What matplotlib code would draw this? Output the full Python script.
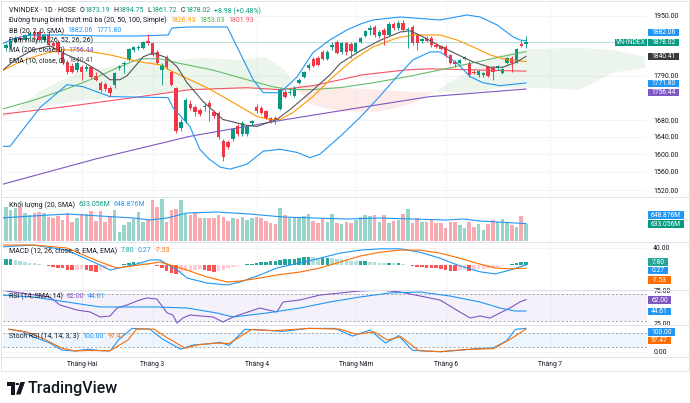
import numpy as np
import matplotlib
matplotlib.use("Agg")
import matplotlib.pyplot as plt
from matplotlib.patches import Rectangle, Polygon, Circle
from matplotlib.lines import Line2D
from matplotlib.ticker import NullLocator

FONT = ["Roboto", "DejaVu Sans"]
plt.rcParams["font.family"] = FONT

# ---------------------------------------------------------------- DATA
month_labels = ["Tháng Hai", "Tháng 3", "Tháng 4", "Tháng Năm", "Tháng 6", "Tháng 7"]
month_bars = [16, 31, 53, 74, 93, 115]

opens = [1863, 1866, 1879, 1890, 1884, 1895, 1903, 1906, 1884, 1900,
         1876, 1879, 1850, 1826, 1816, 1805, 1813, 1808, 1813, 1790,
         1772, 1770, 1760, 1767, 1810, 1821, 1831, 1857, 1863, 1863,
         1882, 1876, 1852, 1805, 1836, 1800, 1760, 1662, 1677, 1718,
         1712, 1705, 1712, 1722, 1700, 1698, 1630, 1627, 1634, 1665,
         1646, 1646, 1672, 1713, 1710, 1701, 1684, 1684, 1708, 1750,
         1747, 1740, 1772, 1788, 1811, 1834, 1836, 1852, 1834, 1865,
         1879, 1852, 1876, 1873, 1852, 1879, 1895, 1911, 1920, 1895,
         1911, 1898, 1928, 1917, 1931, 1912, 1920, 1898, 1881, 1890,
         1889, 1871, 1868, 1866, 1844, 1826, 1824, 1834, 1824, 1800,
         1793, 1793, 1813, 1811, 1811, 1798, 1824, 1837, 1826, 1873,
         1873.19]
highs = [1876, 1882, 1894, 1896, 1900, 1908, 1910, 1912, 1900, 1909,
         1882, 1884, 1856, 1832, 1822, 1828, 1818, 1818, 1816, 1800,
         1776, 1774, 1765, 1800, 1818, 1827, 1862, 1868, 1870, 1882,
         1900, 1880, 1856, 1822, 1845, 1803, 1762, 1682, 1733, 1730,
         1716, 1710, 1725, 1728, 1705, 1702, 1634, 1632, 1660, 1670,
         1678, 1668, 1680, 1720, 1714, 1705, 1688, 1689, 1760, 1756,
         1756, 1764, 1784, 1803, 1822, 1840, 1842, 1858, 1856, 1880,
         1884, 1880, 1880, 1878, 1879, 1893, 1912, 1925, 1924, 1910,
         1916, 1932, 1934, 1936, 1938, 1920, 1925, 1902, 1890, 1895,
         1894, 1876, 1872, 1870, 1848, 1830, 1834, 1842, 1828, 1806,
         1806, 1800, 1816, 1815, 1818, 1810, 1840, 1842, 1862, 1884,
         1894.75]
lows = [1855, 1860, 1875, 1880, 1881, 1890, 1890, 1880, 1878, 1862,
        1862, 1848, 1820, 1795, 1796, 1800, 1780, 1803, 1785, 1776,
        1750, 1752, 1740, 1760, 1805, 1798, 1828, 1852, 1858, 1860,
        1872, 1842, 1820, 1766, 1808, 1764, 1650, 1655, 1672, 1705,
        1690, 1690, 1703, 1677, 1685, 1636, 1584, 1612, 1630, 1643,
        1642, 1643, 1668, 1698, 1695, 1683, 1672, 1670, 1705, 1734,
        1742, 1736, 1768, 1784, 1806, 1812, 1814, 1830, 1830, 1858,
        1846, 1848, 1845, 1836, 1849, 1876, 1892, 1897, 1892, 1890,
        1870, 1895, 1912, 1912, 1906, 1863, 1872, 1857, 1876, 1878,
        1866, 1862, 1856, 1840, 1820, 1813, 1820, 1830, 1788, 1794,
        1788, 1788, 1786, 1780, 1806, 1795, 1820, 1800, 1822, 1866,
        1861.72]
closes = [1871, 1879, 1890, 1884, 1898, 1903, 1895, 1884, 1898, 1871,
          1869, 1852, 1824, 1800, 1800, 1823, 1800, 1813, 1788, 1780,
          1755, 1757, 1747, 1798, 1816, 1824, 1860, 1866, 1866, 1879,
          1876, 1845, 1824, 1818, 1813, 1767, 1653, 1675, 1730, 1710,
          1700, 1694, 1714, 1713, 1689, 1640, 1593, 1616, 1658, 1646,
          1674, 1665, 1677, 1701, 1698, 1686, 1677, 1683, 1757, 1737,
          1750, 1760, 1780, 1800, 1818, 1816, 1818, 1834, 1852, 1871,
          1850, 1876, 1852, 1855, 1876, 1890, 1909, 1917, 1898, 1906,
          1898, 1928, 1917, 1931, 1911, 1915, 1876, 1876, 1887, 1882,
          1871, 1866, 1860, 1844, 1824, 1821, 1831, 1839, 1793, 1798,
          1803, 1798, 1790, 1800, 1816, 1808, 1837, 1824, 1860, 1869.04,
          1878.02]
volumes = [1277, 1153, 1240, 1277, 1029, 967, 1029, 1091, 1029, 905,
           843, 943, 781, 1029, 719, 868, 992, 992, 1116, 744,
           1116, 719, 905, 1153, 322, 595, 694, 818, 1066, 719,
           818, 1525, 1277, 1562, 719, 1153, 1190, 1525, 992, 967,
           1029, 843, 868, 843, 868, 967, 905, 744, 843, 818,
           905, 781, 868, 905, 843, 744, 657, 620, 1215, 967,
           868, 868, 905, 943, 992, 744, 657, 868, 719, 992,
           657, 620, 694, 657, 781, 905, 967, 943, 967, 719,
           967, 657, 744, 781, 992, 1190, 657, 843, 719, 719,
           818, 657, 657, 496, 719, 719, 595, 496, 719, 533,
           620, 409, 620, 781, 694, 818, 657, 595, 533, 943,
           633.056]

# price overlays: (bar position, value)
bb_up_x = [-1.3, 2, 5, 11, 20, 28, 34.3, 35.1, 39, 46.8, 49.5, 52.3, 54.4, 58, 61.6,
           64.9, 68.5, 72.1, 75, 77.6, 83.4, 91.8, 97.5, 100.3, 103.9, 107.3, 108.7, 110]
bb_up = [1870.8, 1889.6, 1897.7, 1897.7, 1895.0, 1895.0, 1897.7, 1916.8, 1919.6, 1919.6,
         1849.7, 1779.9, 1747.3, 1747.3, 1787.5, 1849.7, 1884.2, 1911.3, 1927.8, 1938.9,
         1947.2, 1938.9, 1952.8, 1947.2, 1925.1, 1892.3, 1884.2, 1882.06]
bb_lo_x = [-1.3, 0.85, 7.2, 12.9, 16.3, 22, 34.3, 35.3, 38.9, 41, 43, 45.3, 47.4, 51, 54.4,
           58, 61.6, 64.3, 66.4, 70.7, 74.9, 79, 82.7, 86.1, 89.7, 91.8, 95.4, 98.2, 100.9,
           104.5, 110]
bb_lo = [1618, 1618, 1710.4, 1767.3, 1762.3, 1737.4, 1734.9, 1710.4, 1664.8, 1611.3,
         1588.6, 1570.6, 1566.1, 1577.3, 1606.8, 1611.3, 1604, 1592, 1600, 1641.4,
         1686.3, 1737.4, 1787.5, 1831.3, 1852.3, 1852.3, 1823.5, 1787.5, 1772.4,
         1764.8, 1771.8]
sma20_x = [-1.3, 3, 7.2, 11.4, 15.7, 22, 28.3, 32.6, 35.3, 38.9, 42.5, 45.9, 49.5, 53.1,
           55.8, 58, 60.7, 64.9, 69.2, 73.4, 77.6, 82.7, 86.1, 91.8, 95.4, 98.8, 102.4, 106, 110]
sma20 = [1800.3, 1826.1, 1844.4, 1857.6, 1857.6, 1844.4, 1826.1, 1818.3, 1800.3, 1779.9,
         1759.8, 1737.4, 1712.9, 1688.7, 1681.5, 1681.5, 1698.3, 1737.4, 1787.5, 1831.3,
         1865.5, 1889.6, 1897.7, 1897.7, 1884.2, 1865.5, 1844.4, 1831.3, 1826.93]
sma50_x = [-1.3, 5.7, 12.9, 19.9, 24.1, 28.3, 32.6, 36.8, 44, 51.3, 56.5, 60.1, 64.9,
           70.7, 77.6, 84.8, 91.8, 98.8, 104.5, 110]
sma50 = [1705, 1728, 1757, 1790, 1814, 1834, 1834, 1822, 1804, 1779, 1762, 1755, 1755,
         1760, 1772, 1787.5, 1805, 1823.5, 1839, 1853.03]
sma100_x = [-1.3, 12.9, 26.9, 38.9, 51, 58, 64.9, 70.7, 75.5, 84.8, 89.7, 98.8, 110]
sma100 = [1693.5, 1712.9, 1734.9, 1754.8, 1759.8, 1754.8, 1764.8, 1779.9, 1792.6, 1805.4,
          1808.0, 1805.4, 1801.93]
ma200_x = [-1.3, 18.8, 38.9, 58, 74.9, 89.7, 110]
ma200 = [1530.9, 1588.6, 1641.4, 1679.1, 1710.4, 1737.4, 1756.44]
ema10_x = [-1.3, 1.9, 5.7, 9.3, 12.9, 16.3, 19.9, 22, 24.1, 25.6, 29, 31.1, 34.1, 36.2,
           38.3, 41.7, 45.9, 51, 53.1, 57.3, 60.1, 64.3, 68.5, 70.7, 74.9, 79.1, 83.4,
           85.5, 88.2, 91.8, 95.4, 98.8, 102.4, 105.1, 108.1, 110]
ema10 = [1797.7, 1831.3, 1857.6, 1868.2, 1844.4, 1826.1, 1800.3, 1779.9, 1779.9, 1790.1,
         1839.1, 1849.7, 1836.5, 1813.1, 1772.4, 1725.1, 1681.5, 1667.2, 1664.8, 1681.5,
         1705.6, 1747.3, 1792, 1822, 1855, 1883, 1905.9, 1909, 1893, 1868, 1846,
         1826, 1812, 1812, 1826.1, 1840.41]
cloud_x = [-1.3, 1.9, 7.2, 15.7, 24.1, 32.6, 41, 49.5, 54.8, 59, 61.1, 64.3, 70.7, 79.1,
           85.5, 90.8, 98.2, 104.5, 110.9, 121.4, 128.4, 135.2]
span_a = [1681.5, 1700.7, 1752, 1800, 1818, 1826, 1836.5, 1831.3, 1839.1, 1805.4, 1764.8,
          1717.8, 1700.7, 1700.7, 1717.8, 1749.8, 1805.4, 1844.4, 1860, 1862.9, 1857.6, 1839.1]
span_b = [1693.5, 1700.7, 1710.4, 1727, 1737, 1747.3, 1754.8, 1754.8, 1754.8, 1759.8, 1764.8,
          1767.3, 1759.8, 1754.8, 1749.8, 1749.8, 1747.3, 1759.8, 1759.8, 1754.8, 1797.7, 1810.6]

vol_sma_x = [-1.3, 5.7, 12.9, 19.9, 26.9, 30.5, 34.1, 38.3, 44.6, 51.6, 58.6, 64.9, 72.1,
             79.1, 86.1, 93.3, 96.7, 100.3, 103.9, 110]
vol_sma = [856, 930, 1004, 930, 856, 781, 856, 1042, 1079, 1004, 893, 856, 818, 856, 818,
           781, 818, 744, 707, 648.876]

macd_x = [-1.3, 5.7, 12.9, 19.9, 22, 26.9, 30.5, 32.6, 36.2, 38.3, 42.5, 46.8, 49.5, 53.7,
          57.3, 60.1, 62.2, 66.4, 70.7, 74.9, 79.1, 83.4, 87.6, 91.8, 96, 100.3, 103.5,
          106.6, 110]
macd = [42.3, 47, 35, 0, -11.8, 0, 11.8, 11.8, -11.8, -30.6, -42.3, -47, -40, -23.5, -7,
        0, 4.7, 16, 28, 35, 38, 38, 30, 16, -2, -16, -21, -12, 0.27]
signal_x = [-1.3, 5.7, 12.9, 19.9, 23.5, 28.3, 32.6, 38.3, 42.5, 46.8, 49.5, 53.7, 57.3,
            62.2, 66.4, 70.7, 74.9, 79.1, 83.4, 87.6, 91.8, 96, 100.3, 103.5, 106.6, 110]
signal = [47, 47, 40, 7, -7, 0, 7, -12, -28, -40, -37.6, -30.6, -23.5, -16.5, -7, 7, 21,
          30, 35, 35, 28, 16, 2, -7, -9, -7.53]
hist = [13, 13, 12, 10, 8, 5.5, 4, 2.3, 1, -2,
        -4, -6, -8, -11, -12, -11, -10, -12, -14, -16,
        -15, -10, -5, -1, 1, 2.5, 4.5, 6.5, 6, 4.5,
        3, 1, -3, -8, -13, -18, -20, -17, -15, -13,
        -11, -10, -11, -15, -16, -14, -11, -8, -5, -3,
        1, 2.5, 3.5, 4, 7, 8, 9, 10, 12, 13,
        14, 15, 16, 18, 19, 18, 17, 17, 17, 16,
        14, 13, 11, 10, 9, 9, 9, 8, 6, 5,
        4, 5, 4, 4, 2, 1, -2, -4, -5, -6,
        -7, -8, -9, -11, -13, -13, -12, -11, -13, -12,
        -10, -9, -8, -6, -4, -2, 1, 2, 5, 6.5,
        7.80]

rsi_x = [-1.3, 3, 9.3, 11.4, 15, 17.8, 19.9, 22, 23.5, 25.6, 28.3, 29.8, 31.9, 34.1, 35.3,
         36.2, 37.4, 38.9, 43.8, 45.9, 48, 53.7, 57.3, 58.6, 62.2, 66.4, 70.7, 74.9, 79.1,
         83.4, 87.6, 91.8, 93.9, 96, 98.2, 100.3, 102.4, 104.5, 106.6, 108.7, 110]
rsi = [76.5, 72, 65.9, 53.8, 46.2, 43.2, 35.6, 37.1, 49.2, 53.8, 61.4, 64.4, 62.9, 41.7,
       38.6, 26.5, 34.1, 38.6, 35.6, 28, 35.6, 49.2, 43.2, 58.3, 61.4, 68.9, 72, 75, 76.5,
       73.5, 67.4, 61.4, 52.3, 43.2, 34.1, 37.1, 34.1, 41.7, 49.2, 58.3, 62.0]
rsi_ma_x = [-1.3, 5.7, 12.9, 19.9, 26.9, 31.9, 38.3, 44.6, 48, 55.2, 62.2, 68.5, 74.9,
            81.2, 87.6, 93.9, 100.3, 104.5, 107.7, 110]
rsi_ma = [68.9, 65.9, 58.3, 50.8, 50.8, 50.8, 49.2, 41.7, 35.6, 41.7, 49.2, 58.3, 65.9,
          72, 73.5, 67.4, 58.3, 49.2, 44.7, 44.61]

stoch_k_x = [0.6, 3.4, 6.2, 9, 11.8, 14.6, 17.4, 20.2, 22, 23.9, 26.7, 30.4, 33.2, 36.9,
             39.7, 43.5, 45.3, 47.2, 50.5, 54.6, 58.4, 64, 69.6, 73.3, 77, 80.3, 83.1,
             85.9, 88.2, 91.9, 96.6, 99.4, 103.1, 105.9, 107.8, 110]
stoch_k = [96, 87, 60, 40, 7, 3, 11, 4, 3, 53, 100, 97, 53, 11, 29, 35, 40, 27, 96, 93,
           87, 100, 100, 67, 93, 37, 69, 7, 3, 0, 7, 13, 16, 47, 96, 100]
stoch_d_x = [0.6, 4.3, 8, 11.8, 14.6, 17.4, 22, 25.8, 27.6, 31.3, 34.1, 37.9, 40.7, 44.4,
             47.2, 51.9, 56.5, 64, 70.5, 74.2, 77.9, 80.7, 83.5, 87.3, 91.9, 97.5, 103.1,
             106.8, 110]
stoch_d = [97, 85, 55, 15, 3, 5, 4, 50, 97, 97, 60, 15, 30, 37, 35, 95, 90, 100, 97, 75,
           85, 50, 65, 5, 0, 10, 13, 55, 97.47]

price_ticks = [1950, 1790, 1680, 1640, 1600, 1560, 1520]

# ---------------------------------------------------------------- LAYOUT
W, H = 690, 403
L_PX, R_PX = 3, 647
X0, SP = 6.0, 4.727
XLIM = ((L_PX - X0) / SP, (R_PX - X0) / SP)

UP, DN = "#089981", "#F23645"
TXT = "#131722"
GRID = "#F0F3FA"
LEG = 5.0

fig = plt.figure(figsize=(W / 100, H / 100), dpi=100)
fig.patch.set_facecolor("white")


def pane(top, bottom):
    ax = fig.add_axes([L_PX / W, 1 - bottom / H, (R_PX - L_PX) / W, (bottom - top) / H])
    ax.set_xlim(*XLIM)
    for s in ax.spines.values():
        s.set_visible(False)
    ax.set_xticks(month_bars)
    ax.tick_params(axis="x", length=0, labelbottom=False)
    ax.yaxis.tick_right()
    ax.tick_params(axis="y", length=0, pad=4.5, labelsize=5.0, labelcolor=TXT)
    ax.grid(True, color=GRID, lw=0.6)
    ax.set_axisbelow(True)
    ax.patch.set_alpha(0)
    return ax


# ---- price pane
axp = pane(3, 196)
axp.set_yscale("log")
axp.set_ylim(1507.0, 1986.6)
axp.yaxis.set_minor_locator(NullLocator())
axp.set_yticks(price_ticks)
axp.set_yticklabels([f"{t:.2f}" for t in price_ticks])

xs = np.arange(len(closes))
ca, cb = np.array(span_a), np.array(span_b)
axp.fill_between(cloud_x, ca, cb, where=ca >= cb, interpolate=True, color="#43A047",
                 alpha=0.10, lw=0)
axp.fill_between(cloud_x, ca, cb, where=ca < cb, interpolate=True, color="#F44336",
                 alpha=0.10, lw=0)
axp.axhline(closes[-1], color=UP, lw=0.6, alpha=0.35)
axp.plot(ma200_x, ma200, color="#7E57C2", lw=0.8)
axp.plot(sma100_x, sma100, color="#F7525F", lw=0.8)
axp.plot(sma50_x, sma50, color="#66BB6A", lw=0.8)
axp.plot(sma20_x, sma20, color="#FF9800", lw=0.8)
axp.plot(bb_up_x, bb_up, color="#2196F3", lw=0.8)
axp.plot(bb_lo_x, bb_lo, color="#2196F3", lw=0.8)
axp.plot(ema10_x, ema10, color="#555555", lw=0.8)

o, h, l, c = map(np.array, (opens, highs, lows, closes))
col = np.where(c >= o, UP, DN)
axp.vlines(xs, l, h, colors=col, lw=0.65)
bot = np.minimum(o, c)
top = np.maximum(o, c)
top = np.where(top - bot < 1.2, bot + 1.2, top)
axp.bar(xs, top - bot, bottom=bot, width=0.72, color=col, lw=0)

# ---- volume pane
axv = pane(197, 242)
axv.set_ylim(-37.2, 1636.8)
axv.set_yticks([])
axv.bar(xs, volumes, width=0.75, color=col, alpha=0.42, lw=0)
axv.plot(vol_sma_x, vol_sma, color="#2196F3", lw=0.8)

# ---- MACD pane
axm = pane(243, 289)
axm.set_ylim(-56.4, 51.7)
axm.set_yticks([40])
axm.set_yticklabels(["40.00"])
hcol = []
for i, v in enumerate(hist):
    p = hist[i - 1] if i > 0 else v
    if v >= 0:
        hcol.append("#26A69A" if v >= p else "#B2DFDB")
    else:
        hcol.append("#FF5252" if v <= p else "#FFCDD2")
axm.bar(xs, hist, width=0.75, color=hcol, lw=0)
axm.plot(macd_x, macd, color="#2196F3", lw=0.8)
axm.plot(signal_x, signal, color="#FF6D00", lw=0.8)

# ---- RSI pane
axr = pane(290, 324)
axr.set_ylim(25.0, 76.5)
axr.set_yticks([75, 25])
axr.set_yticklabels(["75.00", "25.00"])
axr.axhspan(30, 70, color="#7E57C2", alpha=0.08, lw=0)
for lv in (70, 30):
    axr.axhline(lv, color="#9598A1", lw=0.6, dashes=(2.5, 2.5))
axr.plot(rsi_x, rsi, color="#7E57C2", lw=0.8)
axr.plot(rsi_ma_x, rsi_ma, color="#2196F3", lw=0.8)

# ---- Stoch RSI pane
axs = pane(325, 356)
axs.set_ylim(-18.5, 114.6)
axs.set_yticks([0])
axs.set_yticklabels(["0.00"])
axs.axhspan(20, 80, color="#2196F3", alpha=0.08, lw=0)
for lv in (80, 20):
    axs.axhline(lv, color="#9598A1", lw=0.6, dashes=(2.5, 2.5))
axs.plot(stoch_k_x, stoch_k, color="#2196F3", lw=0.8)
axs.plot(stoch_d_x, stoch_d, color="#FF6D00", lw=0.8)
axs.tick_params(axis="x", labelbottom=True, labelsize=4.8, labelcolor=TXT, pad=3.5)
axs.set_xticklabels(month_labels)

# ---------------------------------------------------------------- FRAME / SEPARATORS
def fline(x0, y0, x1, y1, color="#E0E3EB", lw=0.7):
    fig.add_artist(Line2D([x0 / W, x1 / W], [1 - y0 / H, 1 - y1 / H], color=color, lw=lw,
                          transform=fig.transFigure))

for yy in (196.5, 242.5, 289.5, 324.5, 356.5):
    fline(0.5, yy, 688.5, yy)
fline(0.5, 0.5, 688.5, 0.5)
fline(0.5, 370.5, 688.5, 370.5)
fline(0.5, 0.5, 0.5, 370.5)
fline(688.5, 0.5, 688.5, 370.5)

# ---------------------------------------------------------------- LEGENDS
renderer = fig.canvas.get_renderer()


def row(x, y, parts, size=LEG, gap=3.5):
    for s, cc, g in parts:
        t = fig.text(x / W, 1 - y / H, s, color=cc, fontsize=size, va="center", ha="left")
        bb = t.get_window_extent(renderer=renderer)
        x += bb.width + (gap if g else 0.3)


row(9, 11, [("VNINDEX · 1D · HOSE", TXT, 1), ("O", TXT, 0), ("1873.19", UP, 1),
            ("H", TXT, 0), ("1894.75", UP, 1), ("L", TXT, 0), ("1861.72", UP, 1),
            ("C", TXT, 0), ("1878.02", UP, 1), ("+8.98 (+0.48%)", UP, 1)])
row(9, 20.5, [("Đường trung bình trượt mũ ba (20, 50, 100, Simple)", TXT, 1),
              ("1826.93", "#FF9800", 1), ("1853.03", "#4CAF50", 1), ("1801.93", "#F7525F", 1)])
row(9, 31, [("BB (20, 2, 0, SMA)", TXT, 1), ("1882.06", "#2196F3", 1), ("1771.80", "#2196F3", 1)])
row(9, 40.5, [("Đám mây (9, 26, 52, 26, 26)", TXT, 1)])
row(9, 50.5, [("MA (200, close, 0)", TXT, 1), ("1756.44", "#7E57C2", 1)])
row(9, 61, [("EMA (10, close, 0)", TXT, 1), ("1840.41", "#555555", 1)])
row(9, 205, [("Khối lượng (20, SMA)", TXT, 1), ("633.056M", UP, 1), ("648.876M", "#2196F3", 1)])
row(9, 251, [("MACD (12, 26, close, 9, EMA, EMA)", TXT, 1), ("7.80", "#26A69A", 1),
             ("0.27", "#2196F3", 1), ("-7.53", "#FF6D00", 1)])
row(9, 296.5, [("RSI (14, SMA, 14)", TXT, 1), ("62.00", "#7E57C2", 1), ("44.61", "#2196F3", 1)])
row(9, 336, [("Stoch RSI (14, 14, 3, 3)", TXT, 1), ("100.00", "#2196F3", 1), ("97.47", "#FF6D00", 1)])

# ---------------------------------------------------------------- PRICE-SCALE LABELS
def tag(text, x0, x1, yc, color, hh=7.6, size=4.9):
    fig.add_artist(Rectangle((x0 / W, 1 - (yc + hh / 2) / H), (x1 - x0) / W, hh / H,
                             transform=fig.transFigure, color=color, lw=0))
    fig.text((x0 + x1) / 2 / W, 1 - yc / H, text, color="white", fontsize=size,
             ha="center", va="center")


tag("1882.06", 648, 679, 32.5, "#2196F3")
tag("VN-INDEX", 615, 647, 42.5, UP)
tag("1878.02", 648, 679, 42.5, UP)
tag("1840.41", 648, 679, 56.5, "#3A3A3A")
tag("1771.80", 648, 679, 83.5, "#2196F3")
tag("1756.44", 648, 679, 92.5, "#7E57C2")
tag("648.876M", 648, 684, 215, "#2196F3")
tag("633.056M", 648, 684, 224, UP)
tag("7.80", 648, 668, 262, "#26A69A")
tag("0.27", 648, 668, 270.5, "#2196F3")
tag("-7.53", 648, 671, 280, "#FF6D00")
tag("62.00", 648, 671, 300, "#7E57C2")
tag("44.61", 648, 671, 311.5, "#2196F3")
tag("100.00", 648, 675, 332, "#2196F3")
tag("97.47", 648, 671, 340.5, "#FF6D00")

# ---------------------------------------------------------------- LOGO
def pxpoly(pts, color="#131722"):
    fig.add_artist(Polygon([(x / W, 1 - y / H) for x, y in pts], closed=True,
                           transform=fig.transFigure, color=color, lw=0))


pxpoly([(7, 382), (15, 382), (15, 394.5), (11, 394.5), (11, 386), (7, 386)])
fig.add_artist(Circle((17.3 / W, 1 - 384 / H), 1.9 / W, transform=fig.transFigure,
                      color="#131722", lw=0))
pxpoly([(20.5, 382), (25, 382), (20.5, 394.5), (16, 394.5)])
fig.text(27.5 / W, 1 - 388.5 / H, "TradingView", fontsize=11.5, fontweight="medium",
         color="#131722", ha="left", va="center")

fig.savefig("out.png", dpi=100, facecolor="white")
